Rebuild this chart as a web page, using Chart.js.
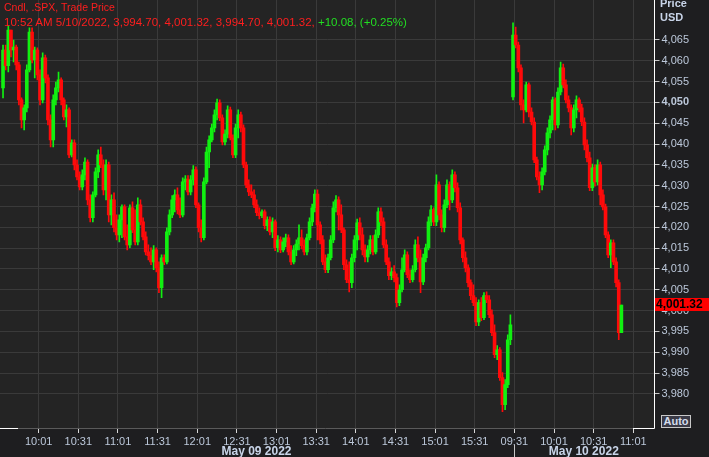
<!DOCTYPE html>
<html>
<head>
<meta charset="utf-8">
<title>.SPX 2-minute candles</title>
<script src="https://cdn.jsdelivr.net/npm/chart.js@4/dist/chart.umd.min.js"></script>
<style>
  html, body { margin: 0; padding: 0; background: #1e1e20; }
  #wrap { position: relative; width: 709px; height: 457px; overflow: hidden; font-family: "Liberation Sans", Arial, sans-serif; }
  #wrap canvas { position: absolute; left: 0; top: 0; }
  .lbl { position: absolute; white-space: nowrap; }
  #hdr1 { left: 4px; top: 1px; font-size: 10.5px; line-height: 12px; color: #ff1e1e; }
  #hdr2 { left: 4px; top: 16px; font-size: 11.5px; line-height: 12px; color: #ff1e1e; }
  #hdr2 .up { color: #22dd22; }
  #unit { left: 660px; top: -4.5px; font-size: 11px; line-height: 14px; font-weight: bold; color: #c8d4e8; }
  #tag { left: 655px; top: 298px; width: 54px; height: 13px; background: #ff0000; color: #000; font-size: 12px; font-weight: bold; line-height: 13px; padding-left: 1px; box-sizing: border-box; }
  #auto { left: 661px; top: 415px; width: 30px; height: 13px; border: 1px solid #c8c8c8; background: #3a3a46; color: #d4dcec; font-size: 11px; font-weight: bold; line-height: 11px; text-align: center; box-sizing: border-box; }
</style>
</head>
<body>
<div id="wrap">
  <canvas id="chart" width="709" height="457"></canvas>
  <div class="lbl" id="hdr1"></div>
  <div class="lbl" id="hdr2"></div>
  <div class="lbl" id="unit">Price<br>USD</div>
  <div class="lbl" id="tag"></div>
  <div class="lbl" id="auto">Auto</div>
</div>
<script>
// ---- data (2-minute candles, open = previous close) ----
const seriesName = 'Cndl, .SPX, Trade Price';
const lastStamp = '10:52 AM 5/10/2022';
const lastChange = '+10.08, (+0.25%)';

const may9Start = '09:34';
const may9Open = 4053.5;
const may9Close = [
  4062.6, 4058.8, 4067.4, 4062.6, 4063.3, 4059.0, 4050.6, 4045.8, 4048.7, 4057.8,
  4066.9, 4060.2, 4062.6, 4056.6, 4050.6, 4060.7, 4055.9, 4045.8, 4041.0, 4050.6,
  4053.5, 4055.4, 4050.6, 4046.5, 4048.2, 4037.4, 4040.3, 4035.0, 4032.1, 4029.7,
  4032.6, 4035.7, 4026.6, 4022.3, 4027.8, 4033.3, 4037.4, 4035.0, 4029.0, 4035.0,
  4023.0, 4026.6, 4019.9, 4018.2, 4021.8, 4024.9, 4017.7, 4015.8, 4024.7, 4019.4,
  4016.5, 4025.4, 4021.3, 4017.7, 4014.1, 4013.2, 4011.7, 4014.6, 4010.3, 4005.5,
  4012.7, 4011.7, 4018.9, 4023.0, 4026.6, 4027.8, 4024.2, 4023.0, 4030.9, 4031.6,
  4028.5, 4031.4, 4033.8, 4025.4, 4019.9, 4017.5, 4030.9, 4038.1, 4041.0, 4043.9,
  4047.0, 4049.9, 4046.3, 4040.5, 4042.4, 4048.2, 4041.5, 4037.4, 4043.9, 4047.0,
  4043.9, 4035.0, 4030.2, 4028.5, 4027.8, 4025.4, 4023.5, 4022.8, 4023.7, 4020.4,
  4021.8, 4018.9, 4021.3, 4015.1, 4017.0, 4014.6, 4016.5, 4017.5, 4014.1, 4011.7,
  4014.6, 4016.0, 4017.5, 4015.6, 4014.1, 4017.5, 4021.3, 4024.7, 4028.0, 4020.6,
  4017.0, 4011.7, 4009.8, 4012.7, 4017.0, 4024.7, 4026.6, 4023.0, 4019.4, 4011.0,
  4007.4, 4006.7, 4012.7, 4017.0, 4021.1, 4018.2, 4014.6, 4012.9, 4014.6, 4017.0,
  4014.1, 4018.2, 4023.7, 4021.3, 4015.8, 4011.7, 4008.4, 4009.3, 4007.9, 4001.9,
  4005.0, 4009.8, 4013.4, 4008.6, 4007.4, 4009.8, 4015.8, 4012.7, 4006.9, 4012.7,
  4015.1, 4021.3, 4024.2, 4021.3, 4030.2, 4023.0, 4019.9, 4025.4, 4030.2, 4026.6,
  4032.6, 4029.5, 4024.7, 4017.0, 4012.7, 4010.3, 4006.7, 4003.6, 4001.9, 3997.3,
  4001.9, 3998.3, 4003.6, 4002.6, 3999.0, 3994.7, 3989.4, 3990.6, 3983.9, 3977.4,
  3982.2, 3993.0, 3996.6
];
const may9High = [
  4063.8, 4063.8, 4068.4, 4067.4, 4065.0, 4063.8, 4059.7, 4051.1, 4049.4, 4059.0,
  4067.9, 4067.9, 4063.3, 4063.1, 4057.8, 4061.9, 4061.4, 4056.6, 4047.0, 4051.8,
  4054.9, 4057.3, 4055.9, 4051.1, 4049.4, 4048.7, 4041.0, 4041.0, 4036.2, 4033.3,
  4033.8, 4036.7, 4036.2, 4027.8, 4028.5, 4034.3, 4038.6, 4039.3, 4036.2, 4036.2,
  4035.7, 4027.8, 4028.3, 4023.0, 4023.0, 4025.4, 4025.4, 4020.6, 4025.4, 4026.1,
  4024.2, 4027.1, 4026.6, 4022.3, 4018.9, 4015.8, 4015.1, 4015.6, 4015.1, 4011.7,
  4013.4, 4013.4, 4019.9, 4024.2, 4027.6, 4029.0, 4029.5, 4027.1, 4031.9, 4032.4,
  4032.4, 4032.4, 4034.8, 4034.5, 4025.9, 4021.8, 4031.9, 4039.3, 4042.0, 4044.8,
  4048.2, 4050.8, 4050.6, 4047.0, 4043.4, 4049.2, 4048.9, 4042.2, 4044.8, 4048.2,
  4047.7, 4044.6, 4035.7, 4031.4, 4030.2, 4029.0, 4026.6, 4024.7, 4024.2, 4024.2,
  4022.5, 4022.5, 4022.3, 4021.8, 4018.0, 4017.7, 4017.5, 4018.4, 4018.2, 4015.6,
  4015.6, 4017.0, 4020.6, 4019.4, 4017.0, 4018.4, 4022.3, 4025.6, 4029.0, 4029.0,
  4021.3, 4018.0, 4013.4, 4013.6, 4018.0, 4026.1, 4027.6, 4027.3, 4025.4, 4019.9,
  4012.2, 4011.7, 4013.6, 4018.0, 4022.0, 4022.3, 4019.9, 4015.8, 4015.6, 4018.0,
  4018.0, 4019.4, 4024.7, 4024.7, 4022.3, 4017.0, 4012.7, 4010.3, 4010.8, 4008.8,
  4006.2, 4012.7, 4014.6, 4014.1, 4009.8, 4010.8, 4017.0, 4017.7, 4014.6, 4013.6,
  4016.0, 4022.5, 4025.2, 4024.7, 4032.6, 4030.9, 4024.2, 4026.6, 4031.4, 4030.9,
  4033.8, 4033.3, 4030.7, 4025.9, 4017.5, 4014.1, 4011.0, 4007.4, 4006.2, 4003.1,
  4002.6, 4003.1, 4004.3, 4004.5, 4003.6, 4000.2, 3996.6, 3991.6, 3991.1, 3985.1,
  3983.4, 3994.2, 3999.0
];
const may9Low = [
  4051.1, 4057.8, 4057.3, 4060.9, 4059.7, 4057.8, 4049.4, 4043.9, 4043.4, 4047.7,
  4057.3, 4059.5, 4055.9, 4055.4, 4049.4, 4049.9, 4054.7, 4044.6, 4039.3, 4039.3,
  4049.4, 4052.5, 4049.4, 4045.8, 4044.1, 4036.7, 4036.9, 4033.8, 4031.4, 4029.0,
  4029.0, 4031.4, 4025.4, 4021.3, 4021.3, 4027.3, 4031.9, 4034.3, 4027.8, 4026.6,
  4021.3, 4020.6, 4018.9, 4017.0, 4016.5, 4017.5, 4017.0, 4014.6, 4015.1, 4018.7,
  4015.8, 4015.8, 4020.6, 4017.0, 4013.4, 4012.2, 4011.0, 4009.8, 4009.3, 4004.3,
  4003.1, 4011.0, 4011.2, 4018.2, 4022.3, 4023.7, 4023.2, 4022.3, 4022.5, 4029.0,
  4027.8, 4027.8, 4030.2, 4024.7, 4018.9, 4016.5, 4017.0, 4030.4, 4034.3, 4040.5,
  4042.9, 4045.8, 4045.6, 4039.8, 4039.8, 4041.5, 4041.0, 4036.7, 4036.7, 4041.5,
  4042.9, 4034.3, 4029.5, 4027.6, 4027.1, 4024.7, 4022.8, 4022.0, 4022.3, 4019.6,
  4019.2, 4018.2, 4017.5, 4014.4, 4014.1, 4013.9, 4014.1, 4015.3, 4013.4, 4011.0,
  4011.2, 4013.2, 4014.6, 4014.8, 4013.4, 4013.4, 4017.0, 4020.4, 4023.7, 4017.0,
  4016.0, 4011.0, 4009.1, 4009.1, 4012.2, 4016.3, 4023.7, 4019.4, 4018.7, 4009.8,
  4006.7, 4004.5, 4005.5, 4011.7, 4014.6, 4017.0, 4013.4, 4011.7, 4011.7, 4013.6,
  4013.4, 4013.6, 4017.5, 4020.4, 4015.1, 4011.0, 4007.4, 4007.4, 4006.9, 4000.9,
  4001.2, 4004.5, 4009.3, 4007.9, 4006.7, 4006.9, 4009.3, 4011.7, 4004.3, 4006.2,
  4011.7, 4014.6, 4020.4, 4020.4, 4020.4, 4021.8, 4018.9, 4018.9, 4024.7, 4024.2,
  4025.9, 4028.5, 4023.7, 4016.0, 4011.7, 4009.3, 4005.7, 4002.6, 4001.2, 3996.4,
  3996.4, 3997.6, 3997.8, 4001.9, 3998.3, 3994.0, 3988.7, 3988.2, 3983.2, 3975.7,
  3976.2, 3981.5, 3991.8
];

const may10Start = '09:30';
const may10Open = 4051.3;
const may10Close = [
  4066.2, 4063.8, 4058.3, 4049.4, 4048.2, 4054.2, 4047.7, 4045.3, 4036.2, 4032.1,
  4030.2, 4033.3, 4038.6, 4042.7, 4045.8, 4050.6, 4044.6, 4052.5, 4058.3, 4054.2,
  4050.6, 4048.7, 4043.9, 4048.2, 4050.6, 4048.7, 4045.3, 4039.8, 4036.7, 4029.5,
  4034.3, 4030.9, 4035.0, 4027.8, 4024.9, 4018.2, 4013.4, 4016.3, 4011.7, 4006.7,
  3994.70, 4001.32
];
const may10High = [
  4069.1, 4068.1, 4064.5, 4059.0, 4050.6, 4054.9, 4054.7, 4048.7, 4046.3, 4036.9,
  4033.3, 4034.3, 4039.6, 4043.9, 4046.8, 4051.3, 4051.1, 4053.5, 4059.7, 4059.2,
  4055.4, 4051.6, 4049.4, 4049.4, 4051.6, 4051.1, 4049.6, 4046.3, 4041.0, 4038.1,
  4035.2, 4035.0, 4036.2, 4035.7, 4029.0, 4025.6, 4018.9, 4017.0, 4017.0, 4012.7,
  4007.4, 4001.32
];
const may10Low = [
  4050.6, 4063.1, 4057.3, 4048.2, 4045.1, 4047.7, 4046.5, 4044.6, 4035.5, 4031.4,
  4028.3, 4029.0, 4032.6, 4037.4, 4041.5, 4043.4, 4043.4, 4043.9, 4051.8, 4053.5,
  4049.9, 4047.7, 4042.2, 4042.9, 4046.3, 4047.7, 4044.4, 4038.6, 4035.7, 4028.8,
  4028.8, 4029.9, 4030.2, 4025.4, 4024.2, 4017.5, 4012.7, 4010.3, 4011.0, 4005.7,
  3993.0, 3994.70
];

const yTicks = [3980, 3985, 3990, 3995, 4000, 4005, 4010, 4015, 4020, 4025, 4030, 4035, 4040, 4045, 4050, 4055, 4060, 4065];
const boldTick = 4050;
const may9Ticks = ['10:01', '10:31', '11:01', '11:31', '12:01', '12:31', '13:01', '13:31', '14:01', '14:31', '15:01', '15:31'];
const may10Ticks = ['09:31', '10:01', '10:31', '11:01'];
const dayLabels = ['May 09 2022', 'May 10 2022'];

// ---- layout ----
const FONT = '"Liberation Sans", Arial, sans-serif';
const UP = '#11f011', DOWN = '#ff0a0a';
const TEXT = '#bcc8da';
const SESSION = 390;           // trading minutes per day, gaps removed
const X_MIN = 1.71, X_MAX = 497.06;
const Y_MIN = 3971.8, Y_MAX = 4074.6;

// minutes since 09:30 of the first day, overnight gap collapsed
function minuteOf(day, hhmm) {
  const [h, m] = hhmm.split(':').map(Number);
  return day * SESSION + h * 60 + m - 570;
}

function session(day, start, open0, closes, highs, lows) {
  const t0 = minuteOf(day, start);
  return closes.map((c, i) => ({
    x: t0 + 2 * i,
    o: i === 0 ? open0 : closes[i - 1],
    h: highs[i], l: lows[i], c
  }));
}

const candles = [
  ...session(0, may9Start, may9Open, may9Close, may9High, may9Low),
  ...session(1, may10Start, may10Open, may10Close, may10High, may10Low)
];
const colors = candles.map(k => k.c >= k.o ? UP : DOWN);

const xTickPos = [...may9Ticks.map(t => minuteOf(0, t)), ...may10Ticks.map(t => minuteOf(1, t))];
const xTickText = [...may9Ticks, ...may10Ticks];

const fmt = v => v.toLocaleString('en-US', { minimumFractionDigits: 2, maximumFractionDigits: 2 });
const last = candles[candles.length - 1];
document.getElementById('hdr1').textContent = seriesName;
document.getElementById('hdr2').innerHTML =
  `${lastStamp}, ${fmt(last.o)}, ${fmt(last.h)}, ${fmt(last.l)}, ${fmt(last.c)}, <span class="up">${lastChange}</span>`;
document.getElementById('tag').textContent = fmt(last.c);

const frame = {
  id: 'frame',
  beforeDraw(chart) {
    const { ctx, chartArea: a } = chart;
    ctx.save();
    ctx.fillStyle = '#1e1e20';
    ctx.fillRect(0, 0, chart.width, chart.height);
    ctx.fillStyle = '#242424';
    ctx.fillRect(a.left, a.top, a.right - a.left, a.bottom - a.top);
    ctx.restore();
  },
  afterDraw(chart) {
    const { ctx, chartArea: a, scales: { x } } = chart;
    const yb = a.bottom + 0.5, xr = Math.floor(a.right) + 0.5;
    ctx.save();
    ctx.lineWidth = 1;
    ctx.strokeStyle = '#5a5a5a';
    ctx.beginPath(); ctx.moveTo(18, yb); ctx.lineTo(633, yb); ctx.stroke();
    ctx.strokeStyle = '#ffffff';
    ctx.beginPath();
    ctx.moveTo(a.left, yb); ctx.lineTo(18, yb);
    ctx.moveTo(633, yb); ctx.lineTo(xr, yb);
    ctx.moveTo(xr, a.top); ctx.lineTo(xr, yb);
    ctx.stroke();

    // day captions under the time labels
    const split = x.getPixelForValue(minuteOf(1, '09:30'));
    const sepX = Math.round(x.getPixelForValue(minuteOf(1, '09:31'))) + 0.5;
    ctx.strokeStyle = '#c8c8c8';
    ctx.beginPath(); ctx.moveTo(sepX, 445); ctx.lineTo(sepX, chart.height); ctx.stroke();
    ctx.fillStyle = '#c8d4e8';
    ctx.font = 'bold 12px ' + FONT;
    ctx.textAlign = 'center';
    ctx.textBaseline = 'middle';
    ctx.fillText(dayLabels[0], (a.left + split) / 2, 452);
    ctx.fillText(dayLabels[1], (split + a.right) / 2, 452);
    ctx.restore();
  }
};

new Chart(document.getElementById('chart'), {
  type: 'bar',
  data: {
    datasets: [
      {
        label: 'wick',
        data: candles.map(k => ({ x: k.x, y: [k.l, k.h] })),
        backgroundColor: colors,
        barThickness: 1,
        minBarLength: 1,
        grouped: false,
        order: 1
      },
      {
        label: 'body',
        data: candles.map(k => ({ x: k.x, y: [k.o, k.c] })),
        backgroundColor: colors,
        barThickness: 3,
        minBarLength: 1,
        grouped: false,
        order: 0
      }
    ]
  },
  options: {
    responsive: false,
    animation: false,
    events: [],
    layout: { padding: 0 },
    plugins: { legend: { display: false }, tooltip: { enabled: false } },
    scales: {
      x: {
        type: 'linear',
        min: X_MIN,
        max: X_MAX,
        offset: false,
        border: { display: false },
        grid: { color: '#3a3a3a', offset: false, tickLength: 5, tickColor: '#d8d8d8' },
        ticks: {
          autoSkip: false, maxRotation: 0, padding: 2, color: TEXT,
          font: { family: FONT, size: 11 },
          callback: (v, i) => xTickText[i]
        },
        afterBuildTicks: s => { s.ticks = xTickPos.map(v => ({ value: v })); },
        afterFit: s => { s.height = 29; s.paddingLeft = 0; s.paddingRight = 0; }
      },
      y: {
        position: 'right',
        min: Y_MIN,
        max: Y_MAX,
        border: { display: false },
        grid: { color: '#3a3a3a', tickLength: 5, tickColor: '#c8c8c8' },
        ticks: {
          autoSkip: false, padding: 2, color: TEXT,
          font: c => ({ family: FONT, size: 11, weight: c.tick && c.tick.value === boldTick ? 'bold' : 'normal' }),
          callback: v => v.toLocaleString('en-US')
        },
        afterBuildTicks: s => { s.ticks = yTicks.map(v => ({ value: v })); },
        afterFit: s => { s.width = 54.5; s.paddingTop = 0; s.paddingBottom = 0; }
      }
    }
  },
  plugins: [frame]
});
</script>
</body>
</html>
